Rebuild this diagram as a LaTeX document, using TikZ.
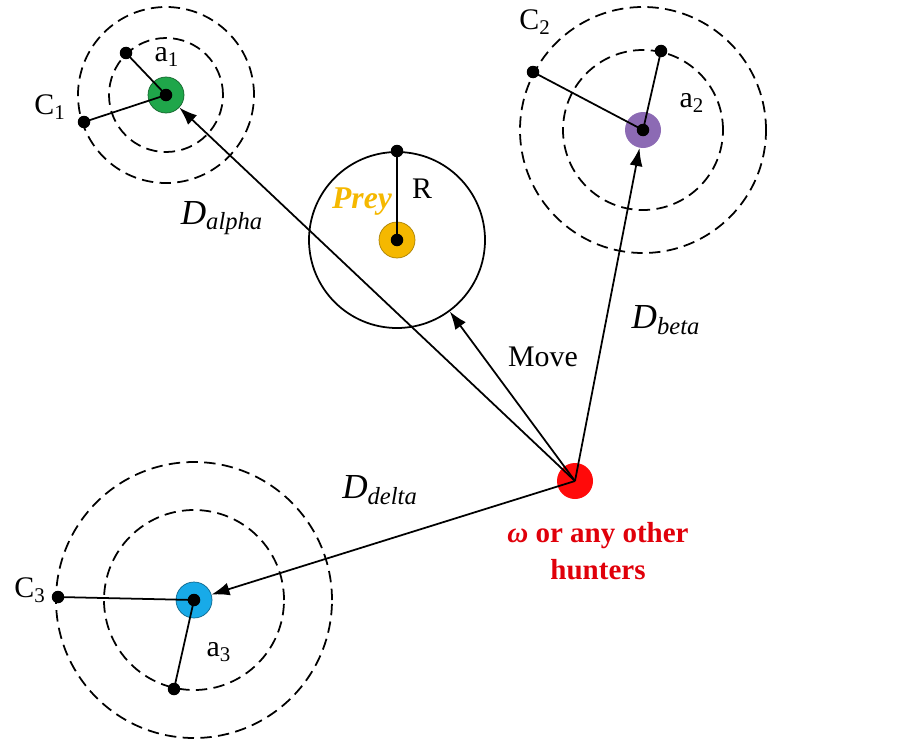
\documentclass[tikz,border=0pt]{standalone}
\usepackage{fontspec}
\setmainfont{Liberation Serif}
\usepackage{xcolor}
\usetikzlibrary{arrows.meta}

\definecolor{alphagreen}{HTML}{1FA64A}
\definecolor{betapurple}{HTML}{8C6AB4}
\definecolor{preyyellow}{HTML}{F5B800}
\definecolor{deltablue}{HTML}{18AAE8}
\definecolor{omegared}{HTML}{FF0A0A}
\definecolor{textred}{HTML}{E0000A}

\begin{document}
\begin{tikzpicture}[
  agent/.style={circle, minimum size=0.72cm, inner sep=0pt},
  dot/.style={circle, fill=black, minimum size=0.25cm, inner sep=0pt},
  zone/.style={line width=1pt, dash pattern=on 6.5pt off 3.6pt},
  link/.style={line width=1pt},
  arrow/.style={-{Latex[length=3.6mm,width=2.6mm]}, line width=1pt},
  every node/.style={font=\fontsize{17}{20}\selectfont}
]
\useasboundingbox (0,0) rectangle (18.48,14.88);

% Zone di caccia (cerchi tratteggiati)
\draw[zone] (3.32,12.98) circle (1.14);
\draw[zone] (3.32,12.98) circle (1.76);
\draw[zone] (12.86,12.28) circle (1.6);
\draw[zone] (12.86,12.28) circle (2.46);
\draw[zone] (3.88,2.88) circle (1.8);
\draw[zone] (3.88,2.88) circle (2.76);

% Agenti
\node[agent, fill=alphagreen, draw=alphagreen!60!black, thin] (alpha) at (3.32,12.98) {};
\node[agent, fill=betapurple] (beta) at (12.86,12.28) {};
\node[agent, fill=deltablue, draw=deltablue!60!black, thin] (delta) at (3.88,2.88) {};
\node[agent, fill=omegared] (omega) at (11.5,5.26) {};
\node[agent, fill=preyyellow, draw=preyyellow!70!black, thin] (prey) at (7.94,10.08) {};
\node[circle, draw, line width=1pt, minimum size=3.52cm, inner sep=0pt] (preyzone) at (7.94,10.08) {};

% Estremi dei raggi
\node[dot] (a1end) at (2.52,13.82) {};
\node[dot] (c1end) at (1.68,12.44) {};
\node[dot] (a2end) at (13.22,13.86) {};
\node[dot] (c2end) at (10.66,13.44) {};
\node[dot] (a3end) at (3.48,1.1) {};
\node[dot] (c3end) at (1.16,2.94) {};
\node[dot] (rend) at (7.94,11.86) {};

\draw[link] (alpha.center) -- (a1end.center);
\draw[link] (alpha.center) -- (c1end.center);
\draw[link] (beta.center) -- (a2end.center);
\draw[link] (beta.center) -- (c2end.center);
\draw[link] (delta.center) -- (a3end.center);
\draw[link] (delta.center) -- (c3end.center);
\draw[link] (prey.center) -- (rend.center);

% Spostamenti dal cacciatore
\draw[arrow] (omega.center) -- (alpha);
\draw[arrow] (omega.center) -- (beta);
\draw[arrow] (omega.center) -- (delta);
\draw[arrow] (omega.center) -- (preyzone);

% Punti centrali
\foreach \n in {alpha,beta,delta,prey}
  \node[dot] at (\n.center) {};

% Etichette
\node (a1lab) at (3.34,13.74) {a\textsubscript{1}};
\node (c1lab) at (1.0,12.74) {C\textsubscript{1}};
\node (a2lab) at (13.84,12.82) {a\textsubscript{2}};
\node (c2lab) at (10.7,14.44) {C\textsubscript{2}};
\node (a3lab) at (4.38,1.84) {a\textsubscript{3}};
\node (c3lab) at (0.6,3.08) {C\textsubscript{3}};
\node (rlab) at (8.44,11.1) {R};
\node[text=preyyellow, font=\fontsize{18}{20}\selectfont\bfseries\itshape] (preylab) at (7.24,10.84) {Prey};
\node (movelab) at (10.86,7.74) {Move};
\node[font=\fontsize{20}{22}\selectfont] (dalpha) at (4.44,10.52) {\textit{D}\textsubscript{\textit{alpha}}};
\node[font=\fontsize{20}{22}\selectfont] (dbeta) at (13.32,8.48) {\textit{D}\textsubscript{\textit{beta}}};
\node[font=\fontsize{20}{22}\selectfont] (ddelta) at (7.6,5.08) {\textit{D}\textsubscript{\textit{delta}}};
\node[text=textred, align=center, font=\fontsize{16.5}{21}\selectfont\bfseries] (omegalab) at (11.96,3.85) {\textit{ω} or any other\\hunters};

\end{tikzpicture}
\end{document}
